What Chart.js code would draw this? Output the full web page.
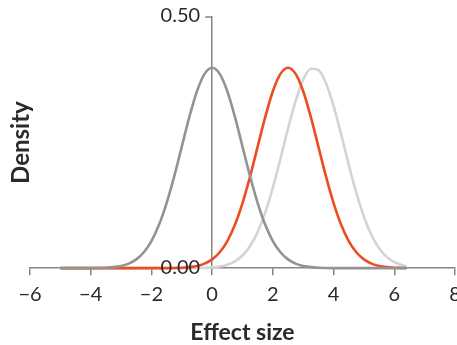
<!DOCTYPE html>
<html>
<head>
<meta charset="utf-8">
<script src="https://cdn.jsdelivr.net/npm/chart.js@4"></script>
<style>
  html, body { margin: 0; padding: 0; background: #fff; overflow: hidden; }
  #wrap { width: 457px; height: 345px; }
</style>
</head>
<body>
<div id="wrap"><canvas id="densityChart"></canvas></div>
<script>
// effect size grid (x) and density for each curve
var effectSize = [-5, -4.75, -4.5, -4.25, -4, -3.75, -3.5, -3.25, -3, -2.75,
    -2.5, -2.25, -2, -1.75, -1.5, -1.25, -1, -0.75, -0.5, -0.25,
    0, 0.25, 0.5, 0.75, 1, 1.25, 1.5, 1.75, 2, 2.25,
    2.5, 2.75, 3, 3.25, 3.5, 3.75, 4, 4.25, 4.5, 4.75,
    5, 5.25, 5.5, 5.75, 6, 6.25, 6.4];

var nullDensity = [0, 0, 0, 0, 0.0001, 0.0004, 0.0009, 0.0020, 0.0044, 0.0091,
    0.0175, 0.0317, 0.0540, 0.0863, 0.1295, 0.1826, 0.2420, 0.3011, 0.3521, 0.3867,
    0.3989, 0.3867, 0.3521, 0.3011, 0.2420, 0.1826, 0.1295, 0.0863, 0.0540, 0.0317,
    0.0175, 0.0091, 0.0044, 0.0020, 0.0009, 0.0004, 0.0001, 0, 0, 0,
    0, 0, 0, 0, 0, 0, 0];

var observedDensity = [0, 0, 0, 0, 0, 0, 0, 0, 0, 0,
    0, 0, 0, 0, 0.0001, 0.0004, 0.0009, 0.0020, 0.0044, 0.0091,
    0.0175, 0.0317, 0.0540, 0.0863, 0.1295, 0.1826, 0.2420, 0.3011, 0.3521, 0.3867,
    0.3989, 0.3867, 0.3521, 0.3011, 0.2420, 0.1826, 0.1295, 0.0863, 0.0540, 0.0317,
    0.0175, 0.0091, 0.0044, 0.0020, 0.0009, 0.0004, 0.0002];

var trueDensity = [0, 0, 0, 0, 0, 0, 0, 0, 0, 0,
    0, 0, 0, 0, 0, 0, 0, 0.0001, 0.0002, 0.0006,
    0.0015, 0.0033, 0.0069, 0.0136, 0.0252, 0.0440, 0.0721, 0.1109, 0.1604, 0.2179,
    0.2780, 0.3332, 0.3752, 0.3970, 0.3945, 0.3683, 0.3230, 0.2661, 0.2059, 0.1497,
    0.1023, 0.0656, 0.0396, 0.0224, 0.0119, 0.0060, 0.0038];

var xTicks = [-6, -4, -2, 0, 2, 4, 6, 8];
var yTicks = [0, 0.5];

var FONT = 'Lato, "Open Sans", sans-serif';
var AXIS = '#858585';
var TEXT = '#2b2b2b';

function toPoints(ys) {
    return effectSize.map(function (x, i) { return { x: x, y: ys[i] }; });
}

function curve(ys, color) {
    return {
        data: toPoints(ys),
        borderColor: color,
        borderWidth: 2.6,
        pointRadius: 0,
        fill: false,
        cubicInterpolationMode: 'monotone',
        clip: false
    };
}

// the y axis sits at x = 0, so its ticks and labels go to its left by hand
var yAxisLabels = {
    id: 'yAxisLabels',
    beforeDatasetsDraw: function (chart) {
        var ctx = chart.ctx;
        var x0 = chart.scales.x.getPixelForValue(0);
        ctx.save();
        ctx.strokeStyle = AXIS;
        ctx.lineWidth = 1.5;
        yTicks.forEach(function (v) {
            var py = chart.scales.y.getPixelForValue(v);
            ctx.beginPath();
            ctx.moveTo(x0 - 7, py);
            ctx.lineTo(x0, py);
            ctx.stroke();
        });
        ctx.restore();
    },
    afterDatasetsDraw: function (chart) {
        var ctx = chart.ctx;
        var x0 = chart.scales.x.getPixelForValue(0);
        ctx.save();
        ctx.fillStyle = TEXT;
        ctx.font = '20px ' + FONT;
        ctx.textAlign = 'right';
        ctx.textBaseline = 'middle';
        yTicks.forEach(function (v) {
            var py = chart.scales.y.getPixelForValue(v);
            ctx.fillText(v.toFixed(2), x0 - 12, py - 1);
        });
        ctx.restore();
    }
};

new Chart(document.getElementById('densityChart').getContext('2d'), {
    type: 'line',
    data: {
        datasets: [
            curve(nullDensity, '#939393'),
            curve(observedDensity, '#ec4b24'),
            curve(trueDensity, '#d4d4d4')
        ]
    },
    options: {
        responsive: true,
        maintainAspectRatio: false,
        animation: false,
        layout: { padding: { top: 17, right: 2, bottom: 0, left: 0 } },
        plugins: { legend: { display: false }, tooltip: { enabled: false } },
        scales: {
            x: {
                type: 'linear',
                position: 'bottom',
                min: -6,
                max: 8,
                afterBuildTicks: function (s) { s.ticks = xTicks.map(function (v) { return { value: v }; }); },
                afterFit: function (s) { s.paddingLeft = 0; s.paddingRight = 0; },
                grid: { drawOnChartArea: false, tickLength: 7, color: AXIS, lineWidth: 1.5 },
                border: { color: AXIS, width: 1.5 },
                ticks: {
                    padding: 7,
                    color: TEXT,
                    font: { family: FONT, size: 20 },
                    maxRotation: 0,
                    callback: function (v) { return v < 0 ? '\u2212' + Math.abs(v) : String(v); }
                },
                title: {
                    display: true,
                    text: 'Effect size',
                    color: TEXT,
                    font: { family: FONT, size: 23, weight: 'bold', lineHeight: 1.08 },
                    padding: { top: 7, bottom: 0 }
                }
            },
            y: {
                type: 'linear',
                position: { x: 0 },
                min: 0,
                max: 0.5,
                afterBuildTicks: function (s) { s.ticks = yTicks.map(function (v) { return { value: v }; }); },
                grid: { drawOnChartArea: false, drawTicks: false },
                border: { color: AXIS, width: 1.5 },
                ticks: { display: false }
            },
            yTitle: {
                type: 'linear',
                position: 'left',
                afterFit: function (s) { s.width = 30; },
                grid: { display: false },
                border: { display: false },
                ticks: { display: false },
                title: {
                    display: true,
                    text: 'Density',
                    color: TEXT,
                    font: { family: FONT, size: 24, weight: 'bold', lineHeight: 1 },
                    padding: { top: 9, bottom: 0 }
                }
            }
        }
    },
    plugins: [yAxisLabels]
});
</script>
</body>
</html>
